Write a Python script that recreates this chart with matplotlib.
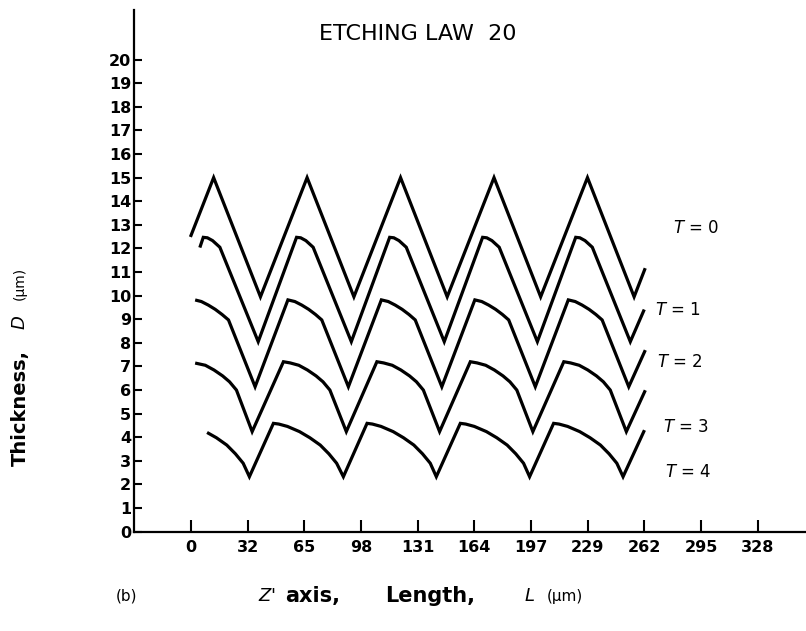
import matplotlib
matplotlib.use("Agg")
import matplotlib.pyplot as plt

# tick positions (um) and their printed labels
x_ticks = [0, 32.8, 65.6, 98.4, 131.2, 164.0, 196.8, 229.6, 262.4, 295.2, 328.0]
x_labels = ["0", "32", "65", "98", "131", "164", "197", "229", "262", "295", "328"]
y_ticks = list(range(0, 21))

# T = 0
x0 = [0.0, 13.1, 40.2, 67.2, 94.3, 121.3, 148.3, 175.4, 202.4, 229.5, 256.5, 262.6]
y0 = [12.55, 15.0, 9.95, 15.0, 9.95, 15.0, 9.95, 15.0, 9.95, 15.0, 9.95, 11.1]

# T = 1
x1 = [5.4, 7.1, 9.5, 12.5, 16.7, 38.9,
      61.1, 63.5, 66.5, 70.7, 92.8,
      115.0, 117.4, 120.4, 124.6, 146.6,
      168.8, 171.2, 174.2, 178.4, 200.5,
      222.7, 225.1, 228.1, 232.3, 254.3, 262.0]
y1 = [12.1, 12.47, 12.45, 12.33, 12.05, 8.05,
      12.47, 12.45, 12.33, 12.05, 8.05,
      12.47, 12.45, 12.33, 12.05, 8.05,
      12.47, 12.45, 12.33, 12.05, 8.05,
      12.47, 12.45, 12.33, 12.05, 8.05, 9.35]

# T = 2
x2 = [3.3, 6.0, 10.0, 14.0, 18.0, 21.7, 37.1,
      56.1, 60.1, 64.1, 68.1, 72.1, 75.7, 91.1,
      110.2, 114.2, 118.2, 122.2, 126.2, 129.8, 145.2,
      164.3, 168.3, 172.3, 176.3, 180.3, 183.9, 199.3,
      218.4, 222.4, 226.4, 230.4, 234.4, 238.0, 253.4, 262.6]
y2 = [9.8, 9.75, 9.6, 9.42, 9.2, 8.97, 6.14,
      9.82, 9.75, 9.6, 9.42, 9.2, 8.97, 6.14,
      9.82, 9.75, 9.6, 9.42, 9.2, 8.97, 6.14,
      9.82, 9.75, 9.6, 9.42, 9.2, 8.97, 6.14,
      9.82, 9.75, 9.6, 9.42, 9.2, 8.97, 6.14, 7.63]

# T = 3
x3 = [3.3, 8.3, 13.3, 18.3, 22.3, 26.3, 35.4,
      53.5, 57.4, 62.4, 67.4, 72.4, 76.4, 80.4, 89.9,
      107.6, 111.5, 116.5, 121.5, 126.5, 130.5, 134.5, 143.9,
      161.7, 165.6, 170.6, 175.6, 180.6, 184.6, 188.6, 197.9,
      215.8, 219.7, 224.7, 229.7, 234.7, 238.7, 242.7, 252.0, 262.6]
y3 = [7.13, 7.05, 6.85, 6.6, 6.35, 6.0, 4.24,
      7.2, 7.15, 7.05, 6.85, 6.6, 6.35, 6.0, 4.24,
      7.2, 7.15, 7.05, 6.85, 6.6, 6.35, 6.0, 4.24,
      7.2, 7.15, 7.05, 6.85, 6.6, 6.35, 6.0, 4.24,
      7.2, 7.15, 7.05, 6.85, 6.6, 6.35, 6.0, 4.24, 5.93]

# T = 4
x4 = [10.1, 14.7, 20.7, 25.7, 30.2, 33.8,
      47.7, 50.8, 55.8, 62.8, 68.8, 74.8, 79.8, 84.3, 88.2,
      101.9, 105.0, 110.0, 117.0, 123.0, 129.0, 134.0, 138.5, 142.0,
      155.9, 159.0, 164.0, 171.0, 177.0, 183.0, 188.0, 192.5, 196.0,
      209.9, 213.0, 218.0, 225.0, 231.0, 237.0, 242.0, 246.5, 250.1, 262.1]
y4 = [4.17, 3.98, 3.67, 3.3, 2.9, 2.33,
      4.59, 4.56, 4.46, 4.24, 3.98, 3.67, 3.3, 2.9, 2.33,
      4.59, 4.56, 4.46, 4.24, 3.98, 3.67, 3.3, 2.9, 2.33,
      4.59, 4.56, 4.46, 4.24, 3.98, 3.67, 3.3, 2.9, 2.33,
      4.59, 4.56, 4.46, 4.24, 3.98, 3.67, 3.3, 2.9, 2.33, 4.24]

curve_labels = ["0", "1", "2", "3", "4"]
label_x = [279.0, 268.5, 270.0, 273.5, 274.5]
label_y = [12.87, 9.39, 7.2, 4.45, 2.54]

W, H = 806, 631
fig = plt.figure(figsize=(W / 100, H / 100), dpi=100)
ax = fig.add_axes([134 / W, 1 - 531.7 / H, 1 - 134 / W, 521.7 / H])

for xs, ys in [(x0, y0), (x1, y1), (x2, y2), (x3, y3), (x4, y4)]:
    ax.plot(xs, ys, color="black", lw=2.3, solid_joinstyle="miter")

ax.set_xlim(-33, 356)
ax.set_ylim(0, 22.1)
ax.spines["top"].set_visible(False)
ax.spines["right"].set_visible(False)
ax.spines["left"].set_linewidth(1.6)
ax.spines["bottom"].set_linewidth(1.6)

ax.set_xticks(x_ticks)
ax.set_xticklabels(x_labels, fontweight="bold", fontsize=11.5)
ax.set_yticks(y_ticks)
ax.set_yticklabels([str(v) for v in y_ticks], fontweight="bold", fontsize=11.5)
ax.tick_params(axis="x", direction="in", length=9, width=1.5, pad=6)
ax.tick_params(axis="y", direction="in", length=6, width=1.5, pad=2)

ax.text(131.5, 21.1, "ETCHING LAW  20", fontsize=16, ha="center", va="center")

for lab, lx, ly in zip(curve_labels, label_x, label_y):
    ax.text(lx, ly, "$T$ = " + lab, fontsize=12, ha="left", va="center")

# axis titles
fig.text(20 / W, 1 - 408 / H, "Thickness,", rotation=90, fontsize=14,
         fontweight="bold", ha="center", va="center")
fig.text(20 / W, 1 - 322 / H, "$D$", rotation=90, fontsize=13,
         ha="center", va="center")
fig.text(20 / W, 1 - 283 / H, "(µm)", rotation=90, fontsize=10,
         ha="center", va="center")

fig.text(127 / W, 1 - 596 / H, "(b)", fontsize=11, ha="center", va="center")
fig.text(258 / W, 1 - 596 / H, "$Z$'", fontsize=13, ha="left", va="center")
fig.text(285 / W, 1 - 596 / H, "axis,", fontsize=15, fontweight="bold",
         ha="left", va="center")
fig.text(385 / W, 1 - 596 / H, "Length,", fontsize=15, fontweight="bold",
         ha="left", va="center")
fig.text(524 / W, 1 - 596 / H, "$L$", fontsize=13, ha="left", va="center")
fig.text(547 / W, 1 - 596 / H, "(µm)", fontsize=11, ha="left", va="center")

fig.savefig("out.png", dpi=100)
